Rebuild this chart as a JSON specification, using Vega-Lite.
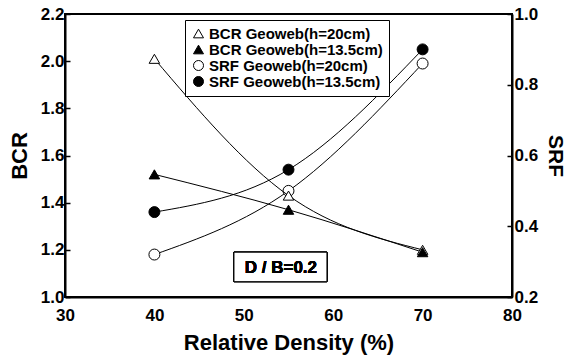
{
  "$schema": "https://vega.github.io/schema/vega-lite/v6.json",
  "width": 447,
  "height": 283,
  "autosize": {"type": "none"},
  "padding": {"left": 65, "top": 14, "right": 58, "bottom": 64},
  "background": "white",
  "config": {
    "view": {"stroke": "black", "strokeWidth": 2},
    "font": "Liberation Sans",
    "axis": {
      "grid": false,
      "domainColor": "black",
      "domainWidth": 2,
      "labelFont": "Liberation Sans",
      "labelFontWeight": "bold",
      "labelFontSize": 17,
      "labelColor": "black",
      "titleFont": "Liberation Sans",
      "titleFontWeight": "bold",
      "titleColor": "black",
      "tickColor": "black",
      "tickWidth": 1.5
    },
    "legend": {
      "orient": "none",
      "legendX": 120,
      "legendY": 6,
      "strokeColor": "black",
      "fillColor": "white",
      "padding": 6,
      "labelFont": "Liberation Sans",
      "labelFontWeight": "bold",
      "labelFontSize": 15,
      "labelColor": "black",
      "labelLimit": 0,
      "symbolSize": 100,
      "symbolStrokeColor": "black",
      "symbolStrokeWidth": 1,
      "labelOffset": 3,
      "rowPadding": -2
    }
  },
  "data": {
    "values": [
      {"density": 40, "value": 2.01, "series": "BCR Geoweb(h=20cm)", "measure": "BCR"},
      {"density": 55, "value": 1.43, "series": "BCR Geoweb(h=20cm)", "measure": "BCR"},
      {"density": 70, "value": 1.20, "series": "BCR Geoweb(h=20cm)", "measure": "BCR"},
      {"density": 40, "value": 1.52, "series": "BCR Geoweb(h=13.5cm)", "measure": "BCR"},
      {"density": 55, "value": 1.37, "series": "BCR Geoweb(h=13.5cm)", "measure": "BCR"},
      {"density": 70, "value": 1.19, "series": "BCR Geoweb(h=13.5cm)", "measure": "BCR"},
      {"density": 40, "value": 0.32, "series": "SRF Geoweb(h=20cm)", "measure": "SRF"},
      {"density": 55, "value": 0.50, "series": "SRF Geoweb(h=20cm)", "measure": "SRF"},
      {"density": 70, "value": 0.86, "series": "SRF Geoweb(h=20cm)", "measure": "SRF"},
      {"density": 40, "value": 0.44, "series": "SRF Geoweb(h=13.5cm)", "measure": "SRF"},
      {"density": 55, "value": 0.56, "series": "SRF Geoweb(h=13.5cm)", "measure": "SRF"},
      {"density": 70, "value": 0.90, "series": "SRF Geoweb(h=13.5cm)", "measure": "SRF"}
    ]
  },
  "encoding": {
    "x": {
      "field": "density",
      "type": "quantitative",
      "scale": {"domain": [30, 80], "nice": false, "zero": false},
      "axis": {
        "title": "Relative Density (%)",
        "titleFontSize": 22,
        "titlePadding": 9,
        "values": [30, 40, 50, 60, 70, 80],
        "ticks": false,
        "labelPadding": 10,
        "labelFlush": false
      }
    }
  },
  "layer": [
    {
      "transform": [{"filter": "datum.measure === 'SRF'"}],
      "encoding": {
        "y": {
          "field": "value",
          "type": "quantitative",
          "scale": {"domain": [0.2, 1.0], "nice": false, "zero": false},
          "axis": {
            "orient": "right",
            "title": "SRF",
            "titleFontSize": 21,
            "titlePadding": 7,
            "values": [0.2, 0.4, 0.6, 0.8, 1.0],
            "format": ".1f",
            "tickSize": -5,
            "labelPadding": 7,
            "labelFlush": false
          }
        }
      },
      "layer": [
        {
          "mark": {"type": "line", "interpolate": "monotone", "color": "black", "strokeWidth": 1},
          "encoding": {"detail": {"field": "series"}}
        },
        {
          "mark": {"type": "point", "filled": true, "stroke": "black", "strokeWidth": 1, "size": 120, "opacity": 1},
          "encoding": {
            "shape": {
              "field": "series",
              "type": "nominal",
              "scale": {
                "domain": ["BCR Geoweb(h=20cm)", "BCR Geoweb(h=13.5cm)", "SRF Geoweb(h=20cm)", "SRF Geoweb(h=13.5cm)"],
                "range": ["triangle-up", "triangle-up", "circle", "circle"]
              },
              "legend": {"title": null}
            },
            "fill": {
              "field": "series",
              "type": "nominal",
              "scale": {
                "domain": ["BCR Geoweb(h=20cm)", "BCR Geoweb(h=13.5cm)", "SRF Geoweb(h=20cm)", "SRF Geoweb(h=13.5cm)"],
                "range": ["white", "black", "white", "black"]
              },
              "legend": {"title": null}
            },
            "stroke": {
              "field": "series",
              "type": "nominal",
              "scale": {
                "domain": ["BCR Geoweb(h=20cm)", "BCR Geoweb(h=13.5cm)", "SRF Geoweb(h=20cm)", "SRF Geoweb(h=13.5cm)"],
                "range": ["black", "black", "black", "black"]
              },
              "legend": {"title": null}
            }
          }
        }
      ]
    },
    {
      "transform": [{"filter": "datum.measure === 'BCR'"}],
      "encoding": {
        "y": {
          "field": "value",
          "type": "quantitative",
          "scale": {"domain": [1.0, 2.2], "nice": false, "zero": false},
          "axis": {
            "orient": "left",
            "title": "BCR",
            "titleFontSize": 22,
            "titlePadding": 9,
            "values": [1.0, 1.2, 1.4, 1.6, 1.8, 2.0, 2.2],
            "format": ".1f",
            "tickSize": -5,
            "labelPadding": 6,
            "labelFlush": false
          }
        }
      },
      "layer": [
        {
          "mark": {"type": "line", "interpolate": "monotone", "color": "black", "strokeWidth": 1},
          "encoding": {"detail": {"field": "series"}}
        },
        {
          "mark": {"type": "point", "filled": true, "stroke": "black", "strokeWidth": 1, "size": 110, "opacity": 1},
          "encoding": {
            "shape": {"field": "series", "type": "nominal"},
            "fill": {"field": "series", "type": "nominal"},
            "stroke": {"field": "series", "type": "nominal"}
          }
        },
        {
          "mark": {"type": "rect", "fill": "white", "stroke": "black", "strokeWidth": 1},
          "encoding": {
            "x": {"datum": 48.9},
            "x2": {"datum": 59.3},
            "y": {"datum": 1.19},
            "y2": {"datum": 1.065}
          }
        },
        {
          "mark": {"type": "text", "text": "D / B=0.2", "font": "Liberation Sans", "fontWeight": "bold", "fontSize": 17, "color": "black", "align": "center", "baseline": "middle"},
          "encoding": {
            "x": {"datum": 54.15},
            "y": {"datum": 1.125}
          }
        }
      ]
    }
  ],
  "resolve": {"scale": {"y": "independent"}}
}
